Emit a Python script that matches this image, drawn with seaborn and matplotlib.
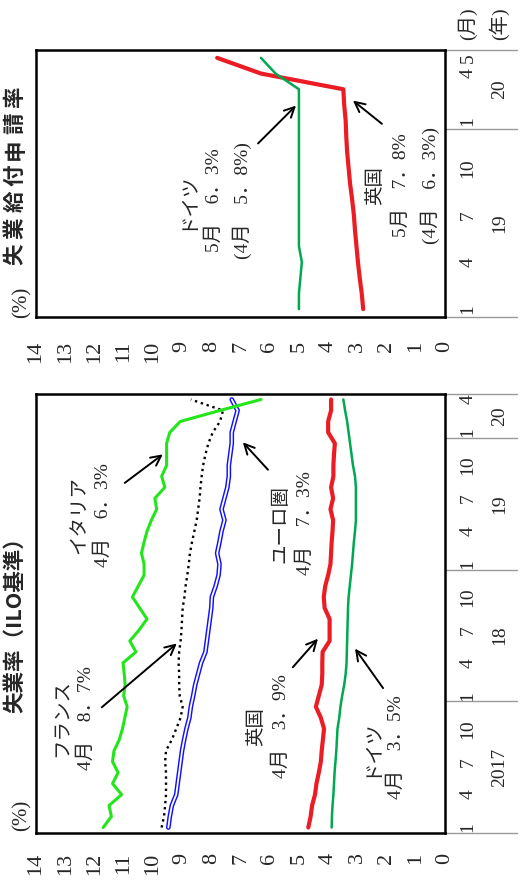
import numpy as np
import matplotlib
matplotlib.use("Agg")
import matplotlib.pyplot as plt
import seaborn as sns

sns.set_style("white")
plt.rcParams['font.family'] = ['Liberation Serif', 'Noto Sans CJK JP', 'DejaVu Sans']

# unemployment rate (ILO), monthly Jan 2017 - Apr 2020, %
italy = [11.7, 11.42, 11.5, 11.07, 11.38, 11.19, 11.38, 11.33, 11.15, 11.04, 10.96, 10.88,
         11.0, 10.95, 10.98, 11.02, 10.58, 10.79, 10.47, 10.2, 10.45, 10.7, 10.5, 10.3,
         10.3, 10.39, 10.3, 10.2, 10.05, 9.87, 9.93, 9.59, 9.7, 9.53, 9.53, 9.53,
         9.42, 9.06, 7.7, 6.3]
france = [9.7, 9.62, 9.58, 9.55, 9.55, 9.55, 9.58, 9.55, 9.35, 9.2, 9.05, 8.98,
          9.08, 9.1, 9.1, 9.12, 9.1, 9.05, 9.02, 9.0, 8.98, 8.92, 8.88, 8.82,
          8.77, 8.73, 8.66, 8.58, 8.5, 8.45, 8.4, 8.37, 8.33, 8.28, 8.2, 8.1,
          7.95, 7.7, 7.6, 8.7]
euro = [9.47, 9.42, 9.35, 9.2, 9.15, 9.1, 9.05, 9.0, 8.93, 8.85, 8.75, 8.7,
        8.62, 8.55, 8.45, 8.35, 8.2, 8.15, 8.1, 8.05, 8.0, 7.98, 7.85, 7.75,
        7.72, 7.8, 7.72, 7.65, 7.55, 7.65, 7.55, 7.45, 7.4, 7.4, 7.35, 7.3,
        7.3, 7.2, 7.1, 7.3]
uk = [4.68, 4.6, 4.55, 4.45, 4.4, 4.32, 4.25, 4.22, 4.18, 4.14, 4.25, 4.42,
      4.32, 4.22, 4.2, 4.2, 4.19, 3.95, 3.95, 3.95, 4.12, 4.15, 4.1, 4.0,
      3.92, 3.9, 3.88, 3.85, 3.83, 3.92, 3.83, 3.9, 3.82, 3.82, 3.8, 3.77,
      4.0, 4.0, 3.9, 3.9]
germany = [3.88, 3.87, 3.85, 3.82, 3.8, 3.78, 3.75, 3.72, 3.7, 3.68, 3.62, 3.58,
           3.52, 3.45, 3.4, 3.37, 3.36, 3.35, 3.34, 3.33, 3.32, 3.3, 3.26, 3.22,
           3.18, 3.15, 3.12, 3.08, 3.05, 3.05, 3.05, 3.05, 3.08, 3.15, 3.2, 3.25,
           3.3, 3.35, 3.42, 3.48]

# unemployment benefit claimant rate, monthly Jan 2019 - May 2020, %
claim_de = [5.0, 5.0, 4.95, 4.9, 5.0, 5.0, 5.0, 5.0, 5.0, 5.0, 5.0, 5.0, 5.0, 5.0, 5.0, 5.8, 6.3]
claim_uk = [2.8, 2.85, 2.92, 2.98, 3.03, 3.08, 3.12, 3.18, 3.25, 3.3, 3.35, 3.38, 3.4, 3.45, 3.48, 6.3, 7.8]

years_a = ['2017', '18', '19', '20']
years_b = ['19', '20']
# month labels per year
month_ticks_a = [[1, 4, 7, 10], [1, 4, 7, 10], [1, 4, 7, 10], [1, 4]]
month_ticks_b = [[1, 4, 7, 10], [1, 4, 5]]

W, H = 525, 888
fig = plt.figure(figsize=(W / 100, H / 100), dpi=100)


def axes_px(l, t, r, b):
    return fig.add_axes([l / W, 1 - b / H, (r - l) / W, (b - t) / H])


ax1 = axes_px(36, 394, 445, 833)
ax2 = axes_px(36, 50, 445, 317)


def setup(ax, n, years, ticks, pad):
    ax.set_xlim(14, 0)
    ax.set_ylim(0, n)
    ax.set_xticks(range(15))
    ax.set_xticklabels([str(v) for v in range(15)], rotation=90, fontsize=16,
                       ha='center', va='top')
    ax.tick_params(axis='x', direction='in', length=6, width=1, color='#555555', pad=pad)
    ax.set_yticks([])
    for s in ax.spines.values():
        s.set_linewidth(1.8)
        s.set_color('black')
    tr = ax.get_yaxis_transform()
    # year separators sticking out on the right
    for k in range(len(years) + 1):
        y = min(12 * k, n)
        ax.plot([1, 1.175], [y, y], transform=tr, color='#999999', lw=1, clip_on=False)
    # month and year labels
    for k, yr in enumerate(years):
        y0 = 12 * k
        y1 = min(12 * (k + 1), n)
        for m in ticks[k]:
            ax.text(1.056, y0 + m - 0.5, str(m), transform=tr, rotation=90,
                    ha='center', va='center', fontsize=14)
        ax.text(1.134, (y0 + y1) / 2, yr, transform=tr, rotation=90,
                ha='center', va='center', fontsize=14)


setup(ax1, len(italy), years_a, month_ticks_a, 14)
setup(ax2, len(claim_de), years_b, month_ticks_b, 17)

# bottom panel lines
pos_a = np.arange(len(italy)) + 0.5
sns.lineplot(x=france, y=pos_a, orient='y', estimator=None, ax=ax1, color='black',
             lw=1.7, linestyle=(0, (1, 1.6)))
sns.lineplot(x=euro, y=pos_a, orient='y', estimator=None, ax=ax1, color='#1010ff', lw=3.4)
sns.lineplot(x=euro, y=pos_a, orient='y', estimator=None, ax=ax1, color='white', lw=1.3)
sns.lineplot(x=italy, y=pos_a, orient='y', estimator=None, ax=ax1, color='#22e61a', lw=2.2)
sns.lineplot(x=uk, y=pos_a, orient='y', estimator=None, ax=ax1, color='#ec1c24', lw=3.0)
sns.lineplot(x=germany, y=pos_a, orient='y', estimator=None, ax=ax1, color='#00a84f', lw=1.8)

# top panel lines
pos_b = np.arange(len(claim_de)) + 0.5
sns.lineplot(x=claim_uk, y=pos_b, orient='y', estimator=None, ax=ax2, color='#ec1c24', lw=3.0)
sns.lineplot(x=claim_de, y=pos_b, orient='y', estimator=None, ax=ax2, color='#00a84f', lw=1.8)
for ax in (ax1, ax2):
    ax.set(xlabel='', ylabel='')
    ax.set_xlim(14, 0)

# annotations: (text, text position, arrow tail, arrow head)
notes_a = [
    ('フランス\n4月　8．7%', (12.67, 10.45), (11.75, 11.45), (9.18, 17.27)),
    ('イタリア\n4月　6．3%', (12.1, 29.0), (10.96, 31.9), (9.66, 34.5)),
    ('ユーロ圏\n4月　7．3%', (5.2, 28.2), (6.06, 33.1), (6.92, 35.6)),
    ('英国\n4月　3．9%', (6.03, 9.7), (5.21, 15.1), (4.35, 17.7)),
    ('ドイツ\n4月　3．5%', (2.09, 7.8), (2.12, 13.2), (3.08, 16.8)),
]
notes_b = [
    ('ドイツ\n5月　6．3%\n(4月　5．8%)', (7.84, 7.43), (6.4, 11.05), (5.1, 13.46)),
    ('英国\n5月　7．8%\n(4月　6．3%)', (1.44, 8.38), (2.16, 12.3), (3.15, 13.78)),
]
for ax, notes, ls in ((ax1, notes_a, 1.5), (ax2, notes_b, 1.65)):
    for txt, tp, tail, head in notes:
        ax.text(tp[0], tp[1], txt, rotation=90, ha='center', va='center',
                multialignment='center', fontsize=14, linespacing=ls)
        ax.annotate('', xy=head, xytext=tail,
                    arrowprops=dict(arrowstyle='->', lw=1.4, color='black',
                                    mutation_scale=18, shrinkA=0, shrinkB=0))

# titles and unit labels
fig.text(15 / W, 1 - 713 / H, '失業率（ILO基準）', rotation=90, ha='center', va='bottom',
         fontsize=15.5, fontweight='bold', family=['Noto Sans CJK JP'])
title_b = '失業給付申請率'
for k, ch in enumerate(title_b):
    fig.text(15 / W, 1 - (254 - 26.2 * k) / H, ch, rotation=90, ha='center', va='center',
             fontsize=15.5, fontweight='bold', family=['Noto Sans CJK JP'])

fig.text(22 / W, 1 - 815 / H, '(%)', rotation=90, ha='center', va='center', fontsize=15)
fig.text(22 / W, 1 - 302 / H, '(%)', rotation=90, ha='center', va='center', fontsize=15)
fig.text(467 / W, 1 - 24 / H, '(月)', rotation=90, ha='center', va='center', fontsize=14)
fig.text(499 / W, 1 - 24 / H, '(年)', rotation=90, ha='center', va='center', fontsize=14)

fig.savefig('out.png', dpi=100)
